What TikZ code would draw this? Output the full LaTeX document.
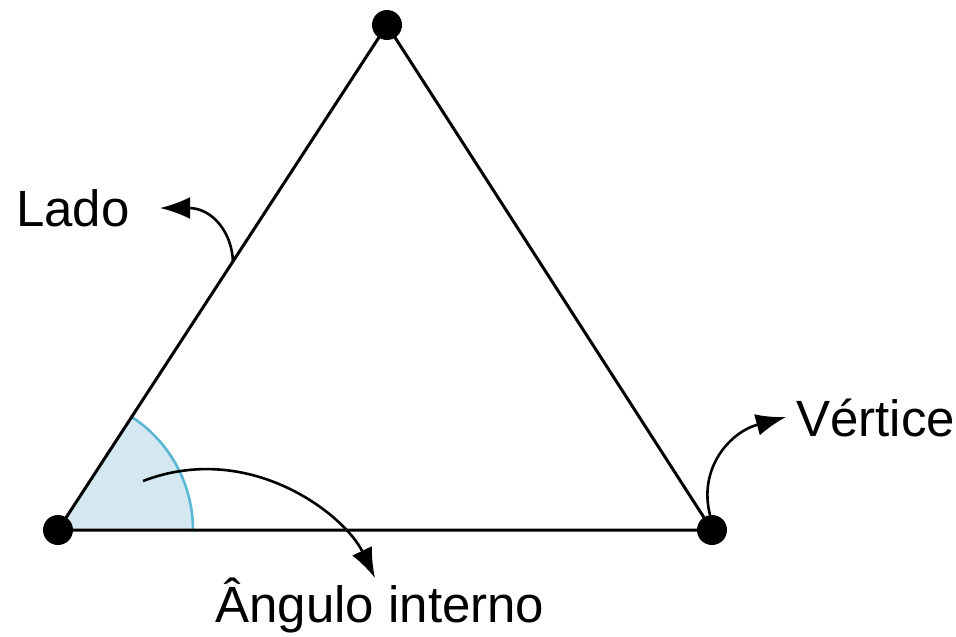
\documentclass[tikz,border=0pt]{standalone}
\usepackage{fontspec}
\setmainfont{Liberation Sans}
\usetikzlibrary{arrows.meta,calc}
\definecolor{anglefill}{HTML}{D3E8F1}
\definecolor{anglearc}{HTML}{5BB7D3}
\tikzset{
  edge/.style={line width=3pt, black},
  vdot/.style={circle, fill=black, minimum size=30pt, inner sep=0pt},
  lbl/.style={font=\fontsize{51}{60}\selectfont, inner sep=0pt},
  pointer/.style={line width=2.6pt, -{Latex[length=30pt,width=22pt]}}
}
\begin{document}
\begin{tikzpicture}[x=1pt,y=-1pt]
\useasboundingbox (0,0) rectangle (956,637);
\coordinate (A) at (58,530);
\coordinate (B) at (712,530);
\coordinate (C) at (387,25);
% angle
\fill[anglefill] (A) -- ++(0:135) arc[start angle=0, end angle=-57.0, radius=135] -- cycle;
\draw[anglearc, line width=2.6pt] ($(A)+(0:135)$) arc[start angle=0, end angle=-57.0, radius=135];
\draw[edge, line join=round] (A) -- (B) -- (C) -- cycle;
\node[vdot] (vA) at (A) {};
\node[vdot] (vB) at (B) {};
\node[vdot] (vC) at (C) {};
% labels
\node[lbl, anchor=west] (lado) at (16,208) {Lado};
\node[lbl, anchor=west] (vert) at (796,418) {Vértice};
\node[lbl, anchor=center] (ang) at (380,605) {Ângulo interno};
\coordinate (s1) at (233,262);
\coordinate (t1) at (160,208);
\coordinate (s2) at (710,515);
\coordinate (t2) at (786,417);
\coordinate (s3) at (143,481);
\coordinate (t3) at (375,578);
\draw[pointer] (s1) .. controls (232,232) and (212,208) .. (t1);
\draw[pointer] (s2) .. controls (698,468) and (730,432) .. (t2);
\draw[pointer] (s3) .. controls (250,440) and (345,515) .. (t3);
\end{tikzpicture}
\end{document}
